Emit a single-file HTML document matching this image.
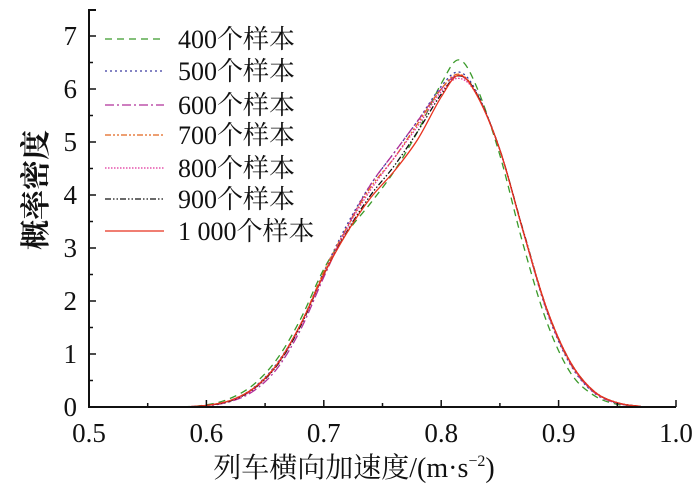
<!DOCTYPE html>
<html><head><meta charset="utf-8"><style>
body{margin:0;background:#fff;}
svg{display:block;font-family:"Liberation Serif","Noto Serif CJK SC",serif;}
</style></head><body>
<svg id="chart" width="700" height="485" viewBox="0 0 700 485" xmlns="http://www.w3.org/2000/svg"></svg>
<script>
const xs = [0.58,0.60,0.62,0.64,0.66,0.68,0.70,0.72,0.74,0.76,0.78,0.80,0.815,0.83,0.85,0.87,0.89,0.91,0.93,0.95,0.97];
const s400 = [0,0.04,0.16,0.42,0.9,1.65,2.6,3.3,3.85,4.45,5.2,6.1,6.55,6.05,4.75,3.05,1.6,0.65,0.22,0.05,0.01];
const s500 = [0,0.03,0.12,0.36,0.82,1.55,2.55,3.45,4.2,4.8,5.4,6.05,6.32,5.95,4.85,3.3,1.8,0.8,0.27,0.07,0.01];
const s600 = [0,0.02,0.1,0.3,0.72,1.45,2.45,3.4,4.2,4.8,5.4,6.0,6.25,5.92,4.85,3.3,1.82,0.82,0.28,0.07,0.01];
const s700 = [0,0.03,0.12,0.35,0.8,1.55,2.55,3.4,4.15,4.7,5.35,6.0,6.28,5.92,4.85,3.3,1.83,0.83,0.29,0.08,0.01];
const s800 = [0,0.03,0.11,0.33,0.78,1.52,2.5,3.38,4.1,4.7,5.3,5.95,6.2,5.9,4.85,3.3,1.84,0.84,0.29,0.08,0.01];
const s900 = [0,0.03,0.11,0.34,0.78,1.52,2.5,3.32,4.0,4.55,5.2,5.9,6.25,5.92,4.85,3.32,1.85,0.85,0.3,0.08,0.01];
const s1000 = [0,0.03,0.12,0.35,0.8,1.55,2.5,3.3,3.95,4.45,5.05,5.85,6.26,5.9,4.85,3.3,1.85,0.85,0.3,0.08,0.01];
const seriesNames = ["400个样本","500个样本","600个样本","700个样本","800个样本","900个样本","1 000个样本"];
const xTicks = ["0.5","0.6","0.7","0.8","0.9","1.0"];
const yTicks = [0,1,2,3,4,5,6,7];

const svg = document.getElementById('chart');
const NS = 'http://www.w3.org/2000/svg';
const X0=89, X1=676, Y0=407, PY=53;
const xScale = v => X0 + (v-0.5)/0.5*(X1-X0);
const yScale = v => Y0 - v*PY;
function mk(tag, attrs){const e=document.createElementNS(NS,tag);for(const k in attrs)e.setAttribute(k,attrs[k]);svg.appendChild(e);return e;}

const styles = [
 {c:'#3a9a2a',d:'7,5'},{c:'#3a3aa0',d:'2,3'},{c:'#b0309a',d:'9,3,2,3'},
 {c:'#e2661e',d:'6,2,2,2,2,2'},{c:'#e0309a',d:'1.5,1.5'},{c:'#111',d:'6,2,1.5,2,1.5,2'},{c:'#e8321e',d:''}];
const data=[s400,s500,s600,s700,s800,s900,s1000];

function smooth(pts){
 let d='M'+pts[0][0]+','+pts[0][1];
 for(let i=0;i<pts.length-1;i++){
  const p0=pts[Math.max(i-1,0)],p1=pts[i],p2=pts[i+1],p3=pts[Math.min(i+2,pts.length-1)];
  const c1=[p1[0]+(p2[0]-p0[0])/6,p1[1]+(p2[1]-p0[1])/6];
  const c2=[p2[0]-(p3[0]-p1[0])/6,p2[1]-(p3[1]-p1[1])/6];
  d+=' C'+c1[0].toFixed(2)+','+c1[1].toFixed(2)+' '+c2[0].toFixed(2)+','+c2[1].toFixed(2)+' '+p2[0].toFixed(2)+','+p2[1].toFixed(2);
 }
 return d;
}
data.forEach((arr,i)=>{
 const pts=xs.map((x,j)=>[xScale(x),yScale(arr[j])]);
 const p=mk('path',{d:smooth(pts),fill:'none',stroke:styles[i].c,'stroke-width':1.3,'stroke-dasharray':styles[i].d});
 
 
});

const ax=mk('path',{d:`M${X0+7},10 H${X0} V${Y0} H${X1}`,fill:'none',stroke:'#111','stroke-width':2});


yTicks.forEach(v=>{
 const y=yScale(v);
 const t=mk('line',{x1:X0,x2:X0+7,y1:y,y2:y,stroke:'#111','stroke-width':1.5});
 
 
 if(v<7){const m=mk('line',{x1:X0,x2:X0+4,y1:y-PY/2,y2:y-PY/2,stroke:'#111','stroke-width':1.5});
 
 }
 const l=mk('text',{x:X0-12,y:y+9,'text-anchor':'end','font-size':27,fill:'#111'});l.textContent=v;
 
 
});
xTicks.forEach((s,i)=>{
 const v=parseFloat(s), x=xScale(v);
 const t=mk('line',{x1:x,x2:x,y1:Y0,y2:Y0-7,stroke:'#111','stroke-width':1.5});
 
 
 if(i<xTicks.length-1){const m=mk('line',{x1:xScale(v+0.05),x2:xScale(v+0.05),y1:Y0,y2:Y0-4,stroke:'#111','stroke-width':1.5});
 
 }
 const l=mk('text',{x:x,y:442,'text-anchor':'middle','font-size':27,fill:'#111'});l.textContent=s;
 
 
});
const xt=mk('text',{x:354,y:477,'text-anchor':'middle','font-size':28,fill:'#111'});
xt.innerHTML='列车横向加速度/(m·s<tspan dy="-11" font-size="16">−2</tspan><tspan dy="11">)</tspan>';


const yt=mk('text',{x:0,y:0,'text-anchor':'middle','font-size':30,'font-weight':'bold',fill:'#111',transform:'translate(46,190) rotate(-90)'});
yt.textContent='概率密度';



const rows=[39,71,105,135,168,199,231];
seriesNames.forEach((n,i)=>{
 const y=rows[i];
 const ln=mk('line',{x1:105,x2:164,y1:y,y2:y,stroke:styles[i].c,'stroke-width':1.3,'stroke-dasharray':styles[i].d});
 
 
 const t=mk('text',{x:178,y:y+9,'font-size':26,fill:'#111'});t.textContent=n;
 
 
});
</script>
</body></html>
